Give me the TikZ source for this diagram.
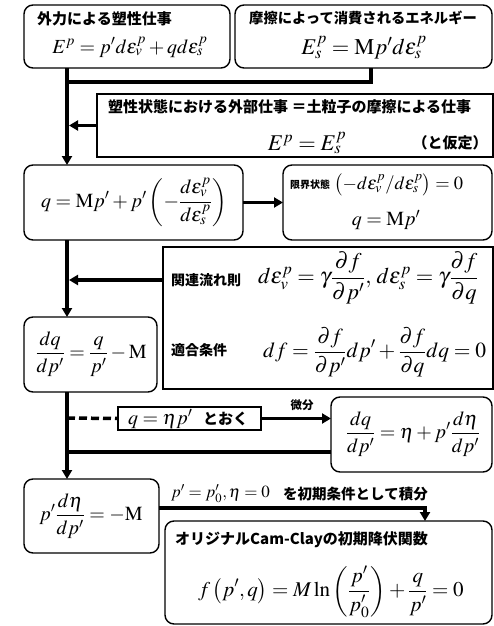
\documentclass[tikz,border=0pt]{standalone}
\usepackage{amsmath}
\usepackage{mathptmx}
\usepackage[no-math]{fontspec}
\setmainfont{Liberation Serif}
\newfontfamily\jp{Noto Sans CJK JP}
\usetikzlibrary{arrows.meta}
\begin{document}
\begin{tikzpicture}[x=1pt,y=-1pt,
  rbox/.style={draw, line width=1.4pt, rounded corners=9pt, inner sep=0pt, outer sep=0pt},
  sbox/.style={draw, line width=1.4pt, inner sep=0pt, outer sep=0pt},
  flow/.style={line width=3.5pt},
  flowarrow/.style={line width=3.5pt, -{Triangle[length=9pt,width=10pt]}},
  dashflow/.style={line width=3.5pt, dash pattern=on 8pt off 4pt},
  eq/.style={font=\fontsize{20}{24}\selectfont, inner sep=0pt},
  eqb/.style={font=\fontsize{22.5}{26}\selectfont, inner sep=0pt},
  eqc/.style={font=\fontsize{21.5}{25}\selectfont, inner sep=0pt},
  lab/.style={font=\jp\bfseries\fontsize{15}{17}\selectfont, inner sep=0pt},
  labs/.style={font=\jp\bfseries\fontsize{14}{16}\selectfont, inner sep=0pt},
  labt/.style={font=\jp\bfseries\fontsize{11.5}{13}\selectfont, inner sep=0pt}]
\useasboundingbox (0,0) rectangle (494,626);

% boxes
\node[rbox, minimum width=206pt, minimum height=63pt] (b1) at (127,36.5) {};
\node[rbox, minimum width=257pt, minimum height=63pt] (b2) at (363.5,36.5) {};
\node[sbox, minimum width=396pt, minimum height=63pt] (b3) at (295,125.5) {};
\node[rbox, minimum width=219pt, minimum height=75pt] (b4) at (133.5,202.5) {};
\node[rbox, minimum width=209pt, minimum height=75pt] (b5) at (387.5,202.5) {};
\node[sbox, minimum width=330pt, minimum height=142pt] (b6) at (328,318) {};
\node[rbox, minimum width=133pt, minimum height=75pt] (b7) at (90.5,354.5) {};
\node[sbox, minimum width=143pt, minimum height=23pt] (b8) at (189.5,418.5) {};
\node[rbox, minimum width=161pt, minimum height=75pt] (b9) at (411.5,434.5) {};
\node[rbox, minimum width=135pt, minimum height=74pt] (b10) at (91.5,516) {};
\node[rbox, minimum width=327pt, minimum height=103pt] (b11) at (328.5,572.5) {};

% texts
\node[lab, anchor=west] (t1a) at (37,19) {外力による塑性仕事};
\node[eq] (t1b) at (130,47) {$E^{p} = p'd\varepsilon_v^{p} + qd\varepsilon_s^{p}$};
\node[font=\jp\bfseries\fontsize{14.3}{16}\selectfont, inner sep=0pt, anchor=west] (t2a) at (249,18) {摩擦によって消費されるエネルギー};
\node[eqb] (t2b) at (364,48) {$E_s^{p} = \mathrm{M}p'd\varepsilon_s^{p}$};
\node[lab, anchor=west] (t3a) at (108,107) {塑性状態における外部仕事 ＝土粒子の摩擦による仕事};
\node[eqb] (t3b) at (307,143) {$E^{p} = E_s^{p}$};
\node[lab] (t3c) at (450,143) {（と仮定）};
\node[eq] (t4) at (134,202) {$\displaystyle q = \mathrm{M}p' + p'\left(-\frac{d\varepsilon_v^{p}}{d\varepsilon_s^{p}}\right)$};
\node[font=\jp\bfseries\fontsize{10}{12}\selectfont, inner sep=0pt, anchor=west] (t5a) at (290,185) {限界状態};
\node[font=\fontsize{18.5}{22}\selectfont, inner sep=0pt, anchor=west] (t5b) at (334,185) {$\left(-d\varepsilon_v^{p}/d\varepsilon_s^{p}\right)=0$};
\node[eq] (t5c) at (386,220) {$q = \mathrm{M}p'$};
\node[labs, anchor=west] (t6a) at (171,280) {関連流れ則};
\node[eqb, anchor=west] (t6b) at (258,278) {$\displaystyle d\varepsilon_v^{p} = \gamma\frac{\partial f}{\partial p'},\, d\varepsilon_s^{p} = \gamma\frac{\partial f}{\partial q}$};
\node[labs, anchor=west] (t6c) at (171,350) {適合条件};
\node[eqc, anchor=west] (t6d) at (263,352) {$\displaystyle df = \frac{\partial f}{\partial p'}dp' + \frac{\partial f}{\partial q}dq = 0$};
\node[eq] (t7) at (91,354) {$\displaystyle \frac{dq}{dp'} = \frac{q}{p'} - \mathrm{M}$};
\node[eq, anchor=west] (t8a) at (128,419) {$q = \eta p'$};
\node[lab, anchor=west] (t8b) at (203,419) {とおく};
\node[labt] (t8c) at (302,405) {微分};
\node[eq] (t9) at (413,434) {$\displaystyle \frac{dq}{dp'} = \eta + p'\frac{d\eta}{dp'}$};
\node[eq] (t10) at (91,516) {$\displaystyle p'\frac{d\eta}{dp'} = -\mathrm{M}$};
\node[anchor=west, inner sep=0pt, font=\fontsize{17}{20}\selectfont] (t10a) at (171,494) {$p' = p'_0, \eta = 0$};
\node[anchor=west, inner sep=0pt, font=\jp\bfseries\fontsize{14.5}{16}\selectfont] (t10b) at (283,494) {を初期条件として積分};
\node[lab, anchor=west] (t11a) at (175,540) {オリジナルCam-Clayの初期降伏関数};
\node[font=\fontsize{21}{25}\selectfont, inner sep=0pt] (t11b) at (331,592) {$\displaystyle f\left(p',q\right) = M\ln\left(\frac{p'}{p'_0}\right) + \frac{q}{p'} = 0$};

% connectors
\coordinate (m1) at (67,82);
\coordinate (j2) at (371,82);
\coordinate (r6) at (163,280);
\coordinate (d1) at (67,418);
\coordinate (c9) at (331,452);
\coordinate (cl) at (65,452);
\coordinate (e10) at (159,508);
\coordinate (k) at (425,508);
\coordinate (mt) at (69,0);

\draw[flow] (b1.south -| m1) -- (m1);
\draw[flow] (b2.south -| j2) -- (j2) -- ([xshift=-1.75pt]m1);
\draw[flowarrow] (m1) -- (b4.north -| m1);
\draw[flowarrow] (b3.west) -- (b3.west -| mt);
\draw[flowarrow] (b4.east) -- (b5.west);
\draw[flowarrow] (b4.south -| m1) -- (b7.north -| m1);
\draw[flowarrow] (r6) -- (r6 -| mt);
\draw[flowarrow] (b7.south -| m1) -- (b10.north -| m1);
\draw[dashflow] (d1) -- (b8.west);
\draw[flowarrow] (b8.east) -- (b8.east -| b9.west);
\draw[flow] (c9) -- (cl);
\draw[flowarrow] (e10) -- (k) -- (k |- b11.north);
\end{tikzpicture}
\end{document}
